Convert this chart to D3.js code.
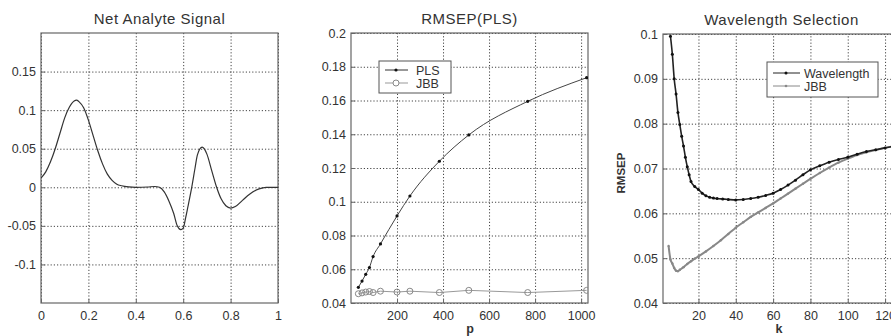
<!DOCTYPE html>
<html>
<head>
<meta charset="utf-8">
<script src="https://cdn.jsdelivr.net/npm/d3@7"></script>
<style>
  body { margin: 0; background: #fff; }
  svg text { font-family: "Liberation Sans", Arial, sans-serif; fill: #333; }
</style>
</head>
<body>
<svg id="chart" width="891" height="336"></svg>
<script>
// --- data ---
var nasX = [0, 0.02, 0.04, 0.06, 0.08, 0.1, 0.12, 0.14, 0.15, 0.16, 0.18, 0.2, 0.22, 0.24, 0.26, 0.28, 0.3, 0.32, 0.34, 0.37, 0.4, 0.45, 0.48, 0.5, 0.52, 0.54, 0.56, 0.575, 0.59, 0.6, 0.61, 0.62, 0.636, 0.65, 0.66, 0.68, 0.7, 0.72, 0.74, 0.76, 0.78, 0.8, 0.82, 0.85, 0.88, 0.92, 0.95, 1];
var nasY = [0.012, 0.02, 0.033, 0.05, 0.07, 0.09, 0.104, 0.112, 0.113, 0.111, 0.103, 0.087, 0.067, 0.047, 0.03, 0.017, 0.009, 0.004, 0.002, 0.0005, 0, 0.0004, 0.001, 0, -0.006, -0.018, -0.034, -0.05, -0.055, -0.053, -0.04, -0.025, 0, 0.025, 0.042, 0.052, 0.043, 0.022, 0.001, -0.015, -0.024, -0.027, -0.025, -0.017, -0.009, -0.002, 0, 0];

var plsP = [32, 48, 64, 80, 96, 128, 200, 256, 384, 512, 768, 1024];
var plsRmsep = [0.0493, 0.053, 0.057, 0.061, 0.0675, 0.075, 0.0916, 0.1034, 0.124, 0.1396, 0.1595, 0.1735];
var plsJbb = [0.0455, 0.046, 0.0465, 0.0468, 0.0462, 0.047, 0.0465, 0.047, 0.0462, 0.0475, 0.0462, 0.0475];

var wlK = [5, 6, 7, 8, 9, 10, 11, 12, 13, 14, 15, 16, 18, 20, 22, 24, 26, 28, 30, 33, 36, 40, 44, 48, 52, 56, 60, 64, 68, 72, 76, 80, 85, 90, 95, 100, 105, 110, 115, 120, 125];
var wlRmsep = [0.0995, 0.0955, 0.09, 0.0866, 0.0825, 0.0798, 0.0772, 0.075, 0.0725, 0.0704, 0.0686, 0.0671, 0.066, 0.0653, 0.0645, 0.0639, 0.0636, 0.0634, 0.0633, 0.0632, 0.0631, 0.063, 0.0631, 0.0633, 0.0636, 0.064, 0.0645, 0.0653, 0.0663, 0.0674, 0.0686, 0.0697, 0.0706, 0.0714, 0.072, 0.0725, 0.0732, 0.0738, 0.0742, 0.0746, 0.075];
var jbbK = [4, 5, 6, 7, 8, 9, 10, 12, 14, 16, 18, 20, 24, 28, 32, 36, 40, 44, 48, 52, 56, 60, 64, 68, 72, 76, 80, 85, 90, 95, 100, 105, 110, 115, 120, 125];
var jbbRmsep = [0.0527, 0.0497, 0.0488, 0.0478, 0.0472, 0.0471, 0.0474, 0.048, 0.0487, 0.0493, 0.0499, 0.0504, 0.0515, 0.0527, 0.054, 0.0554, 0.0568, 0.058, 0.0592, 0.0602, 0.0612, 0.0622, 0.0633, 0.0644, 0.0655, 0.0666, 0.0677, 0.069, 0.0702, 0.0713, 0.0722, 0.073, 0.0736, 0.0741, 0.0746, 0.075];

var svg = d3.select("#chart");
var fmt = function(d) { return String(+d.toFixed(3)); };

// draws one matlab-like axes box, returns the scales and a clipped group
function panel(opt) {
  var x = d3.scaleLinear().domain(opt.xDomain).range([opt.left, opt.right]);
  var y = d3.scaleLinear().domain(opt.yDomain).range([opt.bottom, opt.top]);
  var g = svg.append("g");
  var w = opt.right - opt.left, h = opt.bottom - opt.top;

  // grid
  g.append("g").attr("transform", "translate(0," + opt.bottom + ")")
    .call(d3.axisBottom(x).tickValues(opt.xTicks).tickSize(-h).tickFormat(""))
    .call(function(s) { s.select(".domain").remove(); s.selectAll("line").attr("stroke", "#444").attr("stroke-dasharray", "1.2,2"); });
  g.append("g").attr("transform", "translate(" + opt.left + ",0)")
    .call(d3.axisLeft(y).tickValues(opt.yTicks).tickSize(-w).tickFormat(""))
    .call(function(s) { s.select(".domain").remove(); s.selectAll("line").attr("stroke", "#444").attr("stroke-dasharray", "1.2,2"); });

  // box
  g.append("rect").attr("x", opt.left).attr("y", opt.top).attr("width", w).attr("height", h)
    .attr("fill", "none").attr("stroke", "#666").attr("stroke-width", 1.2);

  // tick labels
  g.append("g").attr("transform", "translate(0," + opt.bottom + ")")
    .call(d3.axisBottom(x).tickValues(opt.xTicks).tickSizeInner(-4).tickSizeOuter(0).tickPadding(8).tickFormat(fmt))
    .call(function(s) { s.select(".domain").remove(); s.selectAll("line").attr("stroke", "#666");
      s.selectAll("text").attr("font-size", 12.5).attr("fill", "#4a4a4a"); });
  g.append("g").attr("transform", "translate(" + opt.left + ",0)")
    .call(d3.axisLeft(y).tickValues(opt.yTicks).tickSizeInner(-4).tickSizeOuter(0).tickPadding(5).tickFormat(fmt))
    .call(function(s) { s.select(".domain").remove(); s.selectAll("line").attr("stroke", "#666");
      s.selectAll("text").attr("font-size", 12.5).attr("fill", "#4a4a4a"); });

  g.append("text").attr("x", (opt.left + opt.right) / 2).attr("y", opt.top - 9)
    .attr("text-anchor", "middle").attr("font-size", 15).attr("letter-spacing", 0.5)
    .attr("fill", "#222").text(opt.title);

  var id = "clip" + Math.round(opt.left);
  svg.append("clipPath").attr("id", id).append("rect")
    .attr("x", opt.left).attr("y", opt.top).attr("width", w).attr("height", h);
  var plot = svg.append("g").attr("clip-path", "url(#" + id + ")");
  return { x: x, y: y, plot: plot };
}

function series(xs, ys) { return xs.map(function(v, i) { return [v, ys[i]]; }); }

// ---- Net Analyte Signal ----
var p1 = panel({ left: 41, right: 278, top: 33, bottom: 303, xDomain: [0, 1], yDomain: [-0.15, 0.2],
  xTicks: [0, 0.2, 0.4, 0.6, 0.8, 1], yTicks: [-0.1, -0.05, 0, 0.05, 0.1, 0.15], title: "Net Analyte Signal" });
p1.plot.append("path").datum(series(nasX, nasY))
  .attr("fill", "none").attr("stroke", "#333").attr("stroke-width", 1.2)
  .attr("d", d3.line().x(function(d) { return p1.x(d[0]); }).y(function(d) { return p1.y(d[1]); }).curve(d3.curveMonotoneX));

// ---- RMSEP(PLS) ----
var p2 = panel({ left: 351, right: 588, top: 33, bottom: 303, xDomain: [0, 1030], yDomain: [0.04, 0.2],
  xTicks: [200, 400, 600, 800, 1000], yTicks: d3.range(0.04, 0.2001, 0.02), title: "RMSEP(PLS)" });
var line2 = d3.line().x(function(d) { return p2.x(d[0]); }).y(function(d) { return p2.y(d[1]); });
var jbb2 = series(plsP, plsJbb), pls2 = series(plsP, plsRmsep);
p2.plot.append("path").datum(jbb2).attr("fill", "none").attr("stroke", "#999").attr("stroke-width", 1).attr("d", line2);
p2.plot.selectAll(".jc").data(jbb2).enter().append("circle")
  .attr("cx", function(d) { return p2.x(d[0]); }).attr("cy", function(d) { return p2.y(d[1]); })
  .attr("r", 3).attr("fill", "none").attr("stroke", "#888");
p2.plot.append("path").datum(pls2).attr("fill", "none").attr("stroke", "#444").attr("stroke-width", 1)
  .attr("d", line2.curve(d3.curveMonotoneX));
p2.plot.selectAll(".pc").data(pls2).enter().append("circle")
  .attr("cx", function(d) { return p2.x(d[0]); }).attr("cy", function(d) { return p2.y(d[1]); })
  .attr("r", 1.6).attr("fill", "#111");
svg.append("text").attr("x", 470).attr("y", 333).attr("text-anchor", "middle")
  .attr("font-size", 12.5).attr("font-weight", "bold").attr("fill", "#333").text("p");

// legend
var lg2 = svg.append("g");
lg2.append("rect").attr("x", 379).attr("y", 61).attr("width", 72).attr("height", 32)
  .attr("fill", "#fff").attr("stroke", "#555");
lg2.append("line").attr("x1", 385).attr("x2", 408).attr("y1", 70).attr("y2", 70).attr("stroke", "#333");
lg2.append("circle").attr("cx", 396).attr("cy", 70).attr("r", 1.6).attr("fill", "#111");
lg2.append("text").attr("x", 416).attr("y", 74.5).attr("font-size", 12.5).text("PLS");
lg2.append("line").attr("x1", 385).attr("x2", 408).attr("y1", 83).attr("y2", 83).attr("stroke", "#999");
lg2.append("circle").attr("cx", 396).attr("cy", 83).attr("r", 3).attr("fill", "#fff").attr("stroke", "#888");
lg2.append("text").attr("x", 416).attr("y", 87.5).attr("font-size", 12.5).attr("fill", "#777").text("JBB");

// ---- Wavelength Selection ----
var p3 = panel({ left: 663, right: 900, top: 34, bottom: 303, xDomain: [1, 128], yDomain: [0.04, 0.1],
  xTicks: [20, 40, 60, 80, 100, 120], yTicks: d3.range(0.04, 0.1001, 0.01), title: "Wavelength Selection" });
var line3 = d3.line().x(function(d) { return p3.x(d[0]); }).y(function(d) { return p3.y(d[1]); }).curve(d3.curveMonotoneX);
var jbb3 = series(jbbK, jbbRmsep), wl3 = series(wlK, wlRmsep);
p3.plot.append("path").datum(jbb3).attr("fill", "none").attr("stroke", "#888").attr("stroke-width", 2).attr("d", line3);
p3.plot.selectAll(".jd").data(jbb3).enter().append("circle")
  .attr("cx", function(d) { return p3.x(d[0]); }).attr("cy", function(d) { return p3.y(d[1]); })
  .attr("r", 1.2).attr("fill", "#888");
p3.plot.append("path").datum(wl3).attr("fill", "none").attr("stroke", "#222").attr("stroke-width", 1.6).attr("d", line3);
p3.plot.selectAll(".wd").data(wl3).enter().append("circle")
  .attr("cx", function(d) { return p3.x(d[0]); }).attr("cy", function(d) { return p3.y(d[1]); })
  .attr("r", 1.5).attr("fill", "#111");
svg.append("text").attr("x", 779).attr("y", 333).attr("text-anchor", "middle")
  .attr("font-size", 12.5).attr("font-weight", "bold").attr("fill", "#333").text("k");
svg.append("text").attr("transform", "translate(625,173) rotate(-90)").attr("text-anchor", "middle")
  .attr("font-size", 11.5).attr("font-weight", "bold").attr("fill", "#333").text("RMSEP");

var lg3 = svg.append("g");
lg3.append("rect").attr("x", 767).attr("y", 62).attr("width", 111).attr("height", 35)
  .attr("fill", "#fff").attr("stroke", "#555");
lg3.append("line").attr("x1", 773).attr("x2", 800).attr("y1", 73).attr("y2", 73).attr("stroke", "#222");
lg3.append("circle").attr("cx", 786).attr("cy", 73).attr("r", 1.5).attr("fill", "#111");
lg3.append("text").attr("x", 804).attr("y", 77.5).attr("font-size", 12.5).text("Wavelength");
lg3.append("line").attr("x1", 773).attr("x2", 800).attr("y1", 86).attr("y2", 86).attr("stroke", "#888");
lg3.append("circle").attr("cx", 786).attr("cy", 86).attr("r", 1.3).attr("fill", "#888");
lg3.append("text").attr("x", 804).attr("y", 90.5).attr("font-size", 12.5).attr("fill", "#666").text("JBB");
</script>
</body>
</html>
